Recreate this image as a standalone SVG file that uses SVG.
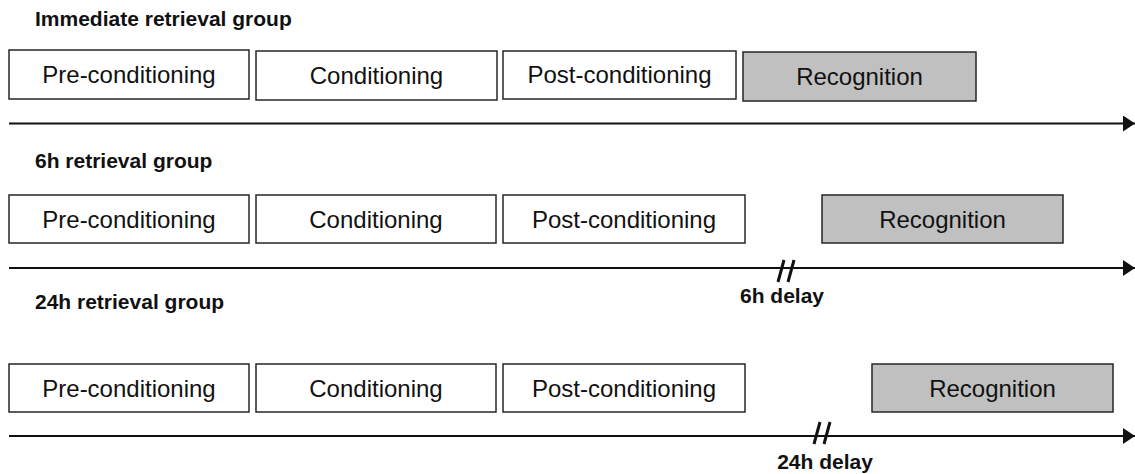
<svg xmlns="http://www.w3.org/2000/svg" width="1135" height="474" viewBox="0 0 1135 474">
<style>
.box{fill:#fff;stroke:#262626;stroke-width:1.5}
.rec{fill:#c0c0c0;stroke:#262626;stroke-width:1.5}
.lbl{font-family:"Liberation Sans",Arial,sans-serif;font-size:24px;fill:#111;text-anchor:middle}
.ttl{font-family:"Liberation Sans",Arial,sans-serif;font-size:21px;font-weight:bold;fill:#111}
.dl{font-family:"Liberation Sans",Arial,sans-serif;font-size:21px;font-weight:bold;fill:#111;text-anchor:middle}
.axis{stroke:#111;stroke-width:2;fill:none}
.brk{stroke:#111;stroke-width:3;fill:none}
</style>
<defs>
<marker id="ah" markerWidth="12" markerHeight="16" refX="12" refY="8" orient="auto" markerUnits="userSpaceOnUse">
<path d="M0,0 L12,8 L0,16 Z" fill="#111"/>
</marker>
</defs>
<g id="titles">
<text class="ttl" x="35" y="26">Immediate retrieval group</text>
<text class="ttl" x="35" y="168">6h retrieval group</text>
<text class="ttl" x="35" y="309">24h retrieval group</text>
</g>
<g id="row1">
<g id="r1-pre"><rect class="box" x="9" y="50" width="240" height="49"/><text class="lbl" x="129" y="83">Pre-conditioning</text></g>
<g id="r1-cond"><rect class="box" x="256" y="51" width="241" height="49"/><text class="lbl" x="376.5" y="84">Conditioning</text></g>
<g id="r1-post"><rect class="box" x="503" y="51" width="233" height="48"/><text class="lbl" x="619.5" y="83">Post-conditioning</text></g>
<g id="r1-rec"><rect class="rec" x="743" y="52" width="233" height="49"/><text class="lbl" x="859.5" y="85">Recognition</text></g>
</g>
<g id="row2">
<g id="r2-pre"><rect class="box" x="9" y="195" width="240" height="48"/><text class="lbl" x="129" y="228">Pre-conditioning</text></g>
<g id="r2-cond"><rect class="box" x="256" y="195" width="240" height="48"/><text class="lbl" x="376" y="228">Conditioning</text></g>
<g id="r2-post"><rect class="box" x="503" y="195" width="242" height="48"/><text class="lbl" x="624" y="228">Post-conditioning</text></g>
<g id="r2-rec"><rect class="rec" x="822" y="195" width="241" height="48"/><text class="lbl" x="942.5" y="228">Recognition</text></g>
</g>
<g id="row3">
<g id="r3-pre"><rect class="box" x="9" y="364" width="240" height="48"/><text class="lbl" x="129" y="397">Pre-conditioning</text></g>
<g id="r3-cond"><rect class="box" x="256" y="364" width="240" height="48"/><text class="lbl" x="376" y="397">Conditioning</text></g>
<g id="r3-post"><rect class="box" x="503" y="364" width="242" height="48"/><text class="lbl" x="624" y="397">Post-conditioning</text></g>
<g id="r3-rec"><rect class="rec" x="872" y="364" width="241" height="48"/><text class="lbl" x="992.5" y="397">Recognition</text></g>
</g>
<g id="connectors">
<line class="axis" x1="9" y1="123.5" x2="1135" y2="123.5" marker-end="url(#ah)"/>
<line class="axis" x1="9" y1="268" x2="1135" y2="268" marker-end="url(#ah)"/>
<line class="axis" x1="9" y1="436" x2="1135" y2="436" stroke="#3a3a3a" marker-end="url(#ah)"/>
<path class="brk" d="M784,260 L778,282 M794,260 L788,282"/>
<path class="brk" d="M820,422 L814,444 M830,422 L824,444"/>
</g>
<g id="delays">
<text class="dl" x="782" y="303">6h delay</text>
<text class="dl" x="825" y="469">24h delay</text>
</g>
</svg>
